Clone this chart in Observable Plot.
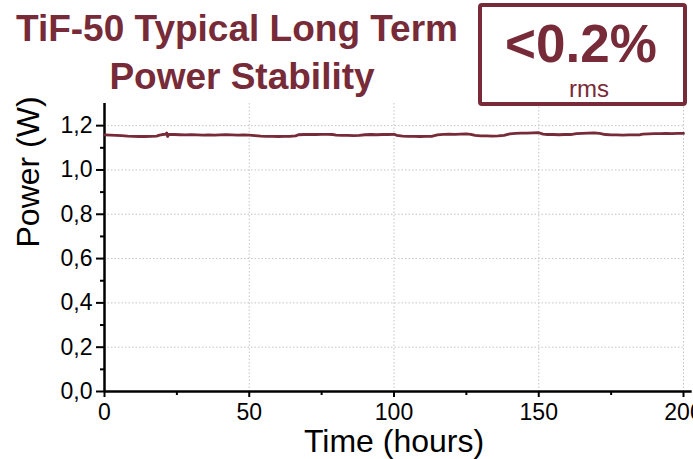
<!DOCTYPE html>
<html>
<head>
<meta charset="utf-8">
<script src="https://cdn.jsdelivr.net/npm/d3@7"></script>
<script src="https://cdn.jsdelivr.net/npm/@observablehq/plot@0.6"></script>
<style>
  html, body { margin: 0; padding: 0; background: #fff; }
  #wrap { position: relative; width: 693px; height: 459px; overflow: hidden; font-family: "Liberation Sans", Arial, sans-serif; }
  #overlay { position: absolute; left: 0; top: 0; }
</style>
</head>
<body>
<div id="wrap">
  <div id="chart"></div>
  <svg id="overlay" width="693" height="120" font-family="Liberation Sans, Arial, sans-serif">
    <text x="237" y="41" text-anchor="middle" font-size="37" font-weight="bold" fill="#772a37">TiF-50 Typical Long Term</text>
    <text x="242" y="89" text-anchor="middle" font-size="37" font-weight="bold" fill="#772a37">Power Stability</text>
    <rect x="480" y="5" width="205" height="99" rx="2" fill="none" stroke="#772a37" stroke-width="4"></rect>
    <text x="581" y="62" text-anchor="middle" font-size="53" font-weight="bold" fill="#772a37">&lt;0.2%</text>
    <text x="589" y="97" text-anchor="middle" font-size="24" fill="#772a37">rms</text>
  </svg>
</div>
<script>
const time = [0,2,4,6,8,10,12,14,16,18,19,20,21,21.5,21.8,22.2,24,26,28,30,32,34,36,38,40,42,44,46,48,50,
  52,54,56,58,60,62,64,66,67,69,71,73,75,77,79,80,82,84,86,88,90,92,94,96,98,100,
  101,103,105,107,109,111,113,115,117,119,121,123,125,126.5,128,130,132,134,136,138,
  140,142,144,146,148,150,151.5,153,155,157,159,161,163,165,167,169,171,173,175,177,179,181,183,185,
  186,188,190,192,194,196,198,200];
const power = [1.158,1.157,1.156,1.155,1.153,1.152,1.151,1.151,1.152,1.153,1.157,1.160,1.161,1.167,1.151,1.161,1.160,1.159,1.158,1.159,1.158,1.157,1.158,1.157,1.158,1.159,1.158,1.157,1.158,1.157,
  1.155,1.153,1.152,1.152,1.151,1.152,1.152,1.154,1.159,1.160,1.161,1.160,1.161,1.161,1.160,1.157,1.156,1.156,1.155,1.156,1.159,1.160,1.159,1.160,1.160,1.161,
  1.156,1.153,1.152,1.152,1.151,1.152,1.152,1.158,1.161,1.162,1.161,1.162,1.163,1.161,1.156,1.154,1.154,1.153,1.154,1.156,
  1.163,1.165,1.166,1.166,1.167,1.168,1.162,1.160,1.160,1.159,1.160,1.160,1.164,1.165,1.166,1.167,1.165,1.160,1.158,1.158,1.157,1.158,1.158,1.159,
  1.162,1.163,1.164,1.164,1.165,1.164,1.165,1.165];
const xMajor = [0, 50, 100, 150, 200];
const xMinor = [25, 75, 125, 175];
const yMajor = [0, 0.2, 0.4, 0.6, 0.8, 1.0, 1.2];
const yMinor = [0.1, 0.3, 0.5, 0.7, 0.9, 1.1];
const xLabel = "Time (hours)";
const yLabel = "Power (W)";

const data = time.map((t, i) => ({t, p: power[i]}));
const fmt = d => d.toFixed(1).replace(".", ",");

const chart = Plot.plot({
  width: 693,
  height: 459,
  marginLeft: 104,
  marginRight: 10,
  marginTop: 103,
  marginBottom: 68,
  style: {fontFamily: "Liberation Sans, Arial, sans-serif", fontSize: "23px", color: "#000", background: "#fff"},
  x: {domain: [0, 200]},
  y: {domain: [0, 1.3]},
  marks: [
    Plot.gridX(xMajor, {stroke: "#c4c4c4", strokeOpacity: 1, strokeDasharray: "1.5,2"}),
    Plot.gridY(yMajor.slice(1), {stroke: "#c4c4c4", strokeOpacity: 1, strokeDasharray: "1.5,2"}),
    Plot.axisY(yMinor, {tickSize: 4, strokeWidth: 2, tickFormat: () => "", label: null}),
    Plot.axisY(yMajor, {tickSize: 8, tickPadding: 4, strokeWidth: 2, tickFormat: fmt, fontSize: 23, label: null}),
    Plot.axisX(xMinor, {tickSize: 4, strokeWidth: 2, tickFormat: () => "", label: null}),
    Plot.axisX(xMajor, {tickSize: 6, tickPadding: 6, strokeWidth: 2, fontSize: 23, label: null}),
    Plot.ruleX([0], {y1: 0, y2: 1.3, stroke: "#000", strokeWidth: 2.5}),
    Plot.ruleY([0], {x1: 0, x2: 203, stroke: "#000", strokeWidth: 2.5}),
    Plot.line(data, {x: "t", y: "p", stroke: "#772a37", strokeWidth: 2.8}),
    Plot.text([yLabel], {frameAnchor: "left", rotate: -90, dx: -76, fontSize: 32, fill: "#000"}),
    Plot.text([xLabel], {frameAnchor: "bottom", lineAnchor: "bottom", dy: 60, fontSize: 32, fill: "#000"})
  ]
});
document.getElementById("chart").appendChild(chart);
</script>
</body>
</html>
